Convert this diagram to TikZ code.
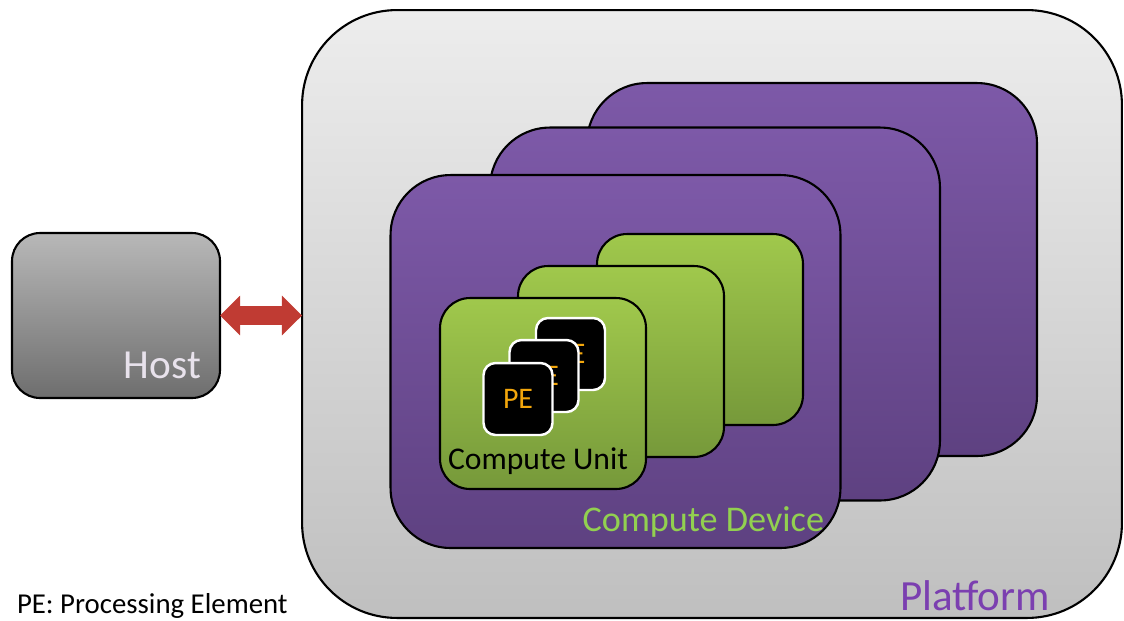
\documentclass[tikz,border=0pt]{standalone}
\usepackage{fontspec}
\setmainfont{Carlito}
\usetikzlibrary{arrows.meta}
\definecolor{purpTop}{HTML}{7D59A8}
\definecolor{purpBot}{HTML}{5E4181}
\definecolor{grnTop}{HTML}{A0C84C}
\definecolor{grnBot}{HTML}{76993A}
\definecolor{platTop}{HTML}{EDEDED}
\definecolor{platBot}{HTML}{BFBFBF}
\definecolor{hostTop}{HTML}{B8B8B8}
\definecolor{hostBot}{HTML}{6E6E6E}
\definecolor{hostTxt}{HTML}{E8E2EC}
\definecolor{arrowRed}{HTML}{C03B33}
\definecolor{peOrange}{HTML}{F2A60C}
\definecolor{devGreen}{HTML}{92D050}
\definecolor{platPurple}{HTML}{7B3FB0}
\begin{document}
\begin{tikzpicture}[x=0.02cm,y=-0.02cm,
  box/.style={draw=black,line width=1.2pt,inner sep=0pt,outer sep=0pt},
  platbox/.style={box,rounded corners=1.9cm,top color=platTop,bottom color=platBot,minimum width=16.4cm,minimum height=12.16cm},
  devbox/.style={box,rounded corners=1.2cm,top color=purpTop,bottom color=purpBot,minimum width=9cm,minimum height=7.46cm},
  cubox/.style={box,rounded corners=0.6cm,top color=grnTop,bottom color=grnBot,minimum width=4.12cm,minimum height=3.82cm},
  pebox/.style={draw=white,line width=1.4pt,fill=black,rounded corners=0.24cm,inner sep=0pt,minimum width=1.38cm,minimum height=1.44cm,text=peOrange,font=\fontsize{17}{18}\selectfont},
  hostbox/.style={box,rounded corners=0.56cm,top color=hostTop,bottom color=hostBot,minimum width=4.16cm,minimum height=3.3cm},
  lbl/.style={inner sep=0pt,outer sep=0pt}]
\useasboundingbox (0,0) rectangle (1124,620);
% platform
\node[platbox] (plat) at (712,314) {};
% devices
\node[devbox] (dev3) at (812,269.5) {};
\node[devbox] (dev2) at (715,314) {};
\node[devbox] (dev1) at (615.5,361.5) {};
% compute units
\node[cubox] (cu3) at (700,329.5) {};
\node[cubox] (cu2) at (621,361.5) {};
\node[cubox] (cu1) at (543,393.5) {};
% processing elements
\node[pebox] (pe3) at (570.5,354) {PE};
\node[pebox] (pe2) at (544,376) {PE};
\node[pebox] (pe1) at (518,399) {PE};
% host
\node[hostbox] (host) at (116,315.5) {};
% arrow
\draw[arrowRed,line width=10.5pt,{Triangle[length=11.5pt,width=22pt]}-{Triangle[length=11.5pt,width=22pt]}] (host.east) -- (host.east -| plat.west);
% labels
\node[lbl,anchor=base east,text=hostTxt,font=\fontsize{23.5}{24}\selectfont] (hostlbl) at (201,378) {Host};
\node[lbl,anchor=base,font=\fontsize{18}{19}\selectfont] (culbl) at (538,469) {Compute Unit};
\node[lbl,anchor=base east,text=devGreen,font=\fontsize{20.6}{21}\selectfont] (devlbl) at (824,531) {Compute Device};
\node[lbl,anchor=base east,text=platPurple,font=\fontsize{24.5}{25}\selectfont] (platlbl) at (1050,610) {Platform};
\node[lbl,anchor=base west,font=\fontsize{16.4}{17}\selectfont] (legend) at (17,613) {PE: Processing Element};
\end{tikzpicture}
\end{document}
